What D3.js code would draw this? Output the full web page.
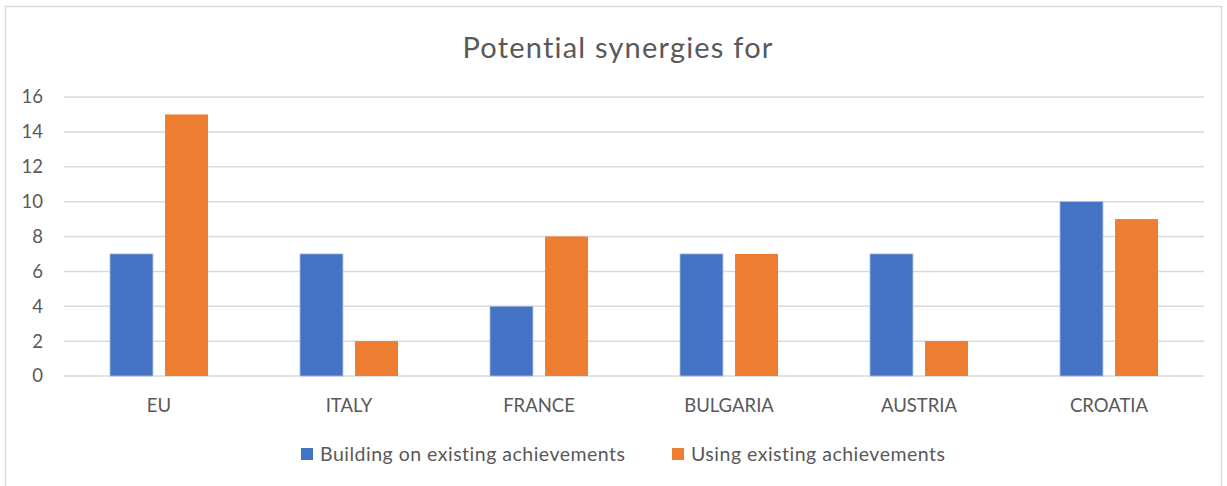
<!DOCTYPE html>
<html>
<head>
<meta charset="utf-8">
<script src="https://cdn.jsdelivr.net/npm/d3@7"></script>
<style>
  body { margin: 0; background: #fff; }
  text { font-family: Lato, "Open Sans", sans-serif; fill: #595959; }
</style>
</head>
<body>
<svg id="chart" width="1227" height="486"></svg>
<script>
'use strict';
// values
const categories = ['EU', 'ITALY', 'FRANCE', 'BULGARIA', 'AUSTRIA', 'CROATIA'];
const seriesNames = ['Building on existing achievements', 'Using existing achievements'];
const building = [7, 7, 4, 7, 7, 10];
const using = [15, 2, 8, 7, 2, 9];
const yTicks = [0, 2, 4, 6, 8, 10, 12, 14, 16];
const colors = ['#4472C4', '#ED7D31'];

const svg = d3.select('#chart');
const margin = { top: 97, right: 23, bottom: 110, left: 64 };
const width = 1227 - margin.left - margin.right;
const height = 486 - margin.top - margin.bottom;

// chart border
svg.append('rect')
  .attr('x', 5.5).attr('y', 6.5)
  .attr('width', 1216).attr('height', 500)
  .attr('fill', 'none').attr('stroke', '#d9d9d9').attr('stroke-width', 1.5);

svg.append('text')
  .attr('x', 618).attr('y', 58)
  .attr('text-anchor', 'middle')
  .style('font-size', '29px')
  .style('letter-spacing', '1.2px')
  .text('Potential synergies for');

const g = svg.append('g').attr('transform', 'translate(' + margin.left + ',' + margin.top + ')');

const x = d3.scaleBand().domain(categories).range([0, width]).paddingInner(0).paddingOuter(0);
const inner = d3.scaleBand().domain([0, 1]).range([46, x.bandwidth() - 46]).paddingInner(0.22);
const y = d3.scaleLinear().domain([0, 16]).range([height, 0]);

// gridlines
g.selectAll('.grid').data(yTicks).enter().append('line')
  .attr('x1', 0).attr('x2', width)
  .attr('y1', function(d){ return y(d); })
  .attr('y2', function(d){ return y(d); })
  .attr('stroke', '#d9d9d9').attr('stroke-width', 1.5);

// y axis labels
const yAxis = g.append('g').call(d3.axisLeft(y).tickValues(yTicks).tickSize(0).tickPadding(21));
yAxis.select('.domain').remove();
yAxis.selectAll('text').style('font-size', '18.5px').attr('fill', '#595959');

// x axis labels
const xAxis = g.append('g').attr('transform', 'translate(0,' + height + ')')
  .call(d3.axisBottom(x).tickSize(0).tickPadding(23));
xAxis.select('.domain').remove();
xAxis.selectAll('text').style('font-size', '18.5px').attr('fill', '#595959');

const series = [building, using];
series.forEach(function(vals, s){
  g.selectAll('.bar-' + s).data(vals).enter().append('rect')
    .attr('x', function(d, i){ return x(categories[i]) + inner(s); })
    .attr('width', inner.bandwidth())
    .attr('y', function(d){ return y(d); })
    .attr('height', function(d){ return height - y(d); })
    .attr('fill', colors[s])
    .attr('stroke', s === 0 ? '#a9bde3' : 'none')
    .attr('stroke-width', 0.8);
});

// legend
const legendX = [301, 672];
const legend = svg.selectAll('.legend').data(seriesNames).enter().append('g')
  .attr('transform', function(d, i){ return 'translate(' + legendX[i] + ',448)'; });
legend.append('rect').attr('width', 12).attr('height', 12)
  .attr('fill', function(d, i){ return colors[i]; });
legend.append('text').attr('x', 19).attr('y', 6).attr('dy', '0.35em')
  .style('font-size', '19.5px')
  .style('letter-spacing', '0.5px')
  .text(function(d){ return d; });
</script>
</body>
</html>
